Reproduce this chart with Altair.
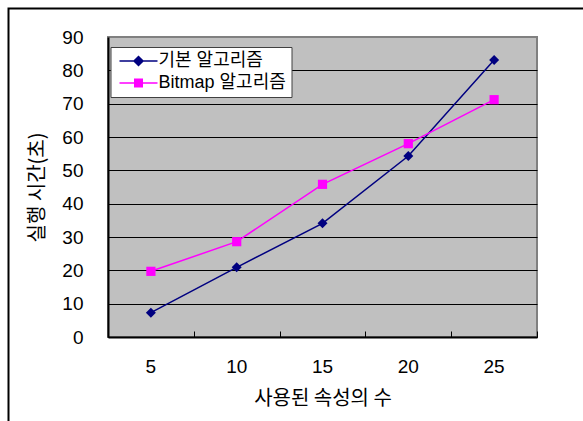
import altair as alt
import pandas as pd

# Number of attributes used and the running time (seconds) of each algorithm
attrs = [5, 10, 15, 20, 25]
basic_times = [7.3, 20.9, 34.1, 54.3, 83.1]
bitmap_times = [19.7, 28.6, 45.8, 58.0, 71.2]
series_names = ["기본 알고리즘", "Bitmap 알고리즘"]
series_colors = ["#000080", "#FF00FF"]
y_ticks = list(range(0, 100, 10))

rows = []
for name, vals in zip(series_names, [basic_times, bitmap_times]):
    for a, v in zip(attrs, vals):
        rows.append({"attrs": a, "time": v, "series": name})
df = pd.DataFrame(rows)

W, H = 429, 300
NUM_FONT = "Liberation Sans"
KR_FONT = "Noto Sans CJK KR"
MIX_FONT = "Liberation Sans, Noto Sans CJK KR"

x_scale = alt.Scale(type="band", paddingInner=0, paddingOuter=0)
y_scale = alt.Scale(domain=[0, 90], nice=False, zero=True)
color_scale = alt.Scale(domain=series_names, range=series_colors)

# legend symbols: a short line with the series marker in the middle
legend_paths = [
    "M-3.8,0L3.8,0M0,-0.9L0.9,0L0,0.9L-0.9,0Z",
    "M-3.8,0L3.8,0M-0.75,-0.75L0.75,-0.75L0.75,0.75L-0.75,0.75Z",
]

main_x_axis = alt.Axis(
    orient="bottom", labelAngle=0, labelFont=NUM_FONT, labelFontSize=19,
    labelColor="black", labelPadding=20, ticks=False, domainColor="black",
    domainWidth=2, grid=False, title="사용된 속성의 수", titleFont=KR_FONT,
    titleFontSize=20, titleFontWeight="normal", titleColor="black",
    titleY=61, titleBaseline="middle",
)
tick_x_axis = alt.Axis(
    orient="bottom", offset=-6, tickSize=6, ticks=True, tickBand="extent",
    tickColor="black", tickWidth=1, labels=False, domain=False, grid=False,
    title=None,
)
y_axis = alt.Axis(
    values=y_ticks, ticks=False, labelFont=NUM_FONT, labelFontSize=19,
    labelColor="black", labelPadding=25, grid=True, gridColor="black",
    gridWidth=1,
    gridOpacity=alt.condition("datum.value == 90", alt.value(0), alt.value(1)),
    domainColor="black", domainWidth=2, title="실행 시간(초)",
    titleFont=KR_FONT, titleFontSize=20, titleFontWeight="normal",
    titleColor="black", titleX=-71, titleY=H / 2, titleAngle=270,
    titleAlign="center", titleBaseline="middle",
)

legend = alt.Legend(
    orient="none", legendX=2.5, legendY=10, title=None, fillColor="white",
    strokeColor="#404040", padding=5, rowPadding=4, symbolSize=100,
    symbolStrokeWidth=1.5, symbolOffset=14, labelOffset=11,
    labelFont=MIX_FONT, labelFontSize=18, labelColor="black",
    labelLimit=400, cornerRadius=0, symbolOpacity=1,
)


def x_enc(axis):
    return alt.X("attrs:O", bandPosition=0.5, scale=x_scale, axis=axis)


def y_enc():
    return alt.Y("time:Q", scale=y_scale, axis=y_axis)


base = alt.Chart(df)

# legend-only layer: no rows survive the filter, the legend comes from the scale domains
legend_layer = base.transform_filter("false").mark_point(
    filled=False, strokeWidth=1.5
).encode(
    x=x_enc(None),
    y=y_enc(),
    color=alt.Color("series:N", scale=color_scale, legend=legend),
    fill=alt.Fill("series:N", scale=color_scale, legend=legend),
    shape=alt.Shape("series:N", scale=alt.Scale(domain=series_names, range=legend_paths), legend=legend),
)

lines = base.mark_line(strokeWidth=1.5).encode(
    x=x_enc(main_x_axis),
    y=y_enc(),
    color=alt.Color("series:N", scale=color_scale),
    detail="series:N",
)

basic_points = base.transform_filter(
    alt.datum.series == series_names[0]
).mark_point(shape="diamond", filled=True, size=100, opacity=1).encode(
    x=x_enc(tick_x_axis),
    y=y_enc(),
    color=alt.Color("series:N", scale=color_scale),
)

bitmap_points = base.transform_filter(
    alt.datum.series == series_names[1]
).mark_point(shape="square", filled=True, size=85, opacity=1).encode(
    x=x_enc(None),
    y=y_enc(),
    color=alt.Color("series:N", scale=color_scale),
)

# outer frame around the whole figure
frame = alt.Chart(pd.DataFrame({"k": [0]})).mark_rect(
    fill="transparent", stroke="black", strokeWidth=2
).encode(
    x=alt.value(-99.5), x2=alt.value(700), y=alt.value(-28.5), y2=alt.value(600)
)

chart = alt.layer(frame, legend_layer, lines, basic_points, bitmap_points).resolve_axis(
    x="independent"
).properties(
    width=W, height=H,
    autosize=alt.AutoSizeParams(type="none"),
    padding={"left": 108, "top": 37, "right": 46, "bottom": 84},
    background="white",
).configure_view(
    fill="#C0C0C0", stroke="#808080", strokeWidth=2
)

chart.save("out.html", embed_options={"renderer": "svg", "actions": False})
